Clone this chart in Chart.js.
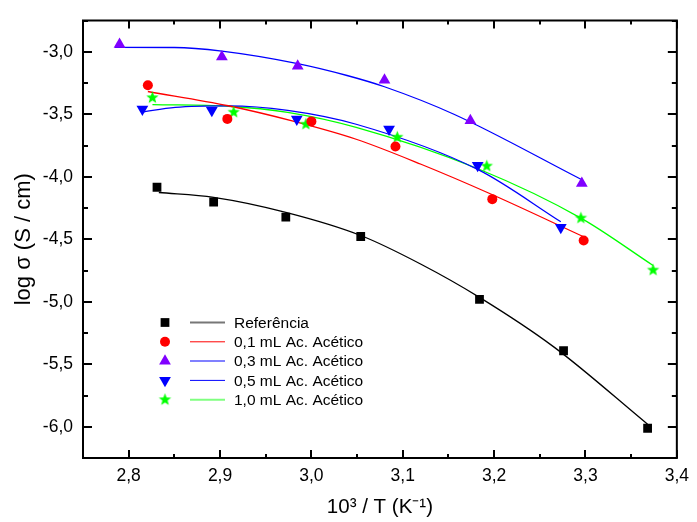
<!DOCTYPE html>
<html>
<head>
  <title>log sigma x 1000/T</title>
  <script src="https://cdn.jsdelivr.net/npm/chart.js"></script>
  <style>
    body { margin: 0; background: #fff; }
  </style>
</head>
<body>
<canvas id="graphCanvas" width="697" height="522"></canvas>

<script>
// measured points: x = 10^3 / T, y = log sigma
let refX  = [2.831, 2.893, 2.972, 3.054, 3.184, 3.276, 3.368];
let refY  = [-4.084, -4.202, -4.323, -4.478, -4.981, -5.392, -6.012];
let ac01X = [2.821, 2.908, 3.000, 3.092, 3.198, 3.298];
let ac01Y = [-3.268, -3.537, -3.557, -3.758, -4.179, -4.510];
let ac03X = [2.790, 2.902, 2.985, 3.080, 3.174, 3.296];
let ac03Y = [-2.940, -3.040, -3.115, -3.226, -3.550, -4.052];
let ac05X = [2.815, 2.891, 2.984, 3.085, 3.182, 3.273];
let ac05Y = [-3.460, -3.470, -3.540, -3.620, -3.910, -4.405];
let ac10X = [2.826, 2.915, 2.994, 3.094, 3.192, 3.295, 3.374];
let ac10Y = [-3.368, -3.484, -3.580, -3.684, -3.915, -4.331, -4.747];

// fitted curves
let refFitX  = [2.833, 2.893, 2.972, 3.054, 3.120, 3.184, 3.266, 3.368];
let refFitY  = [-4.126, -4.165, -4.285, -4.470, -4.700, -4.965, -5.365, -5.980];
let ac01FitX = [2.821, 2.909, 2.980, 3.049, 3.120, 3.197, 3.298];
let ac01FitY = [-3.318, -3.432, -3.555, -3.700, -3.900, -4.140, -4.480];
let ac03FitX = [2.785, 2.850, 2.902, 2.985, 3.039, 3.080, 3.156, 3.295];
let ac03FitY = [-2.965, -2.966, -2.995, -3.095, -3.190, -3.280, -3.500, -4.020];
let ac05FitX = [2.814, 2.851, 2.909, 2.974, 3.049, 3.183, 3.273];
let ac05FitY = [-3.482, -3.445, -3.433, -3.469, -3.580, -3.945, -4.360];
let ac10FitX = [2.826, 2.909, 2.974, 3.049, 3.183, 3.296, 3.374];
let ac10FitY = [-3.423, -3.436, -3.485, -3.605, -3.938, -4.335, -4.710];

let labels = ['Referência', '0,1 mL Ac. Acético', '0,3 mL Ac. Acético', '0,5 mL Ac. Acético', '1,0 mL Ac. Acético'];

// little filled star for the 1,0 mL points
function makeStar(color, r) {
  let c = document.createElement('canvas');
  let s = Math.ceil(r * 2 + 2);
  c.width = s; c.height = s;
  let g = c.getContext('2d');
  g.fillStyle = color;
  g.beginPath();
  for (let i = 0; i < 10; i++) {
    let rr = i % 2 ? r * 0.42 : r;
    let a = -Math.PI / 2 + i * Math.PI / 5;
    g.lineTo(s / 2 + rr * Math.cos(a), s / 2 + rr * Math.sin(a));
  }
  g.closePath();
  g.fill();
  return c;
}
let star = makeStar('#00ff00', 6.5);

let series = [
  { x: refX,  y: refY,  fx: refFitX,  fy: refFitY,  color: '#000000', line: '#000000', style: 'rect',     rot: 0,   radius: 6.2, legLine: '#777777', legW: 2 },
  { x: ac01X, y: ac01Y, fx: ac01FitX, fy: ac01FitY, color: '#ff0000', line: '#ff0000', style: 'circle',   rot: 0,   radius: 5,   legLine: '#ff0000', legW: 1 },
  { x: ac03X, y: ac03Y, fx: ac03FitX, fy: ac03FitY, color: '#8000ff', line: '#0000ff', style: 'triangle', rot: 0,   radius: 6.8, legLine: '#8080ff', legW: 2 },
  { x: ac05X, y: ac05Y, fx: ac05FitX, fy: ac05FitY, color: '#0000ff', line: '#0000ff', style: 'triangle', rot: 180, radius: 6.8, legLine: '#0000ff', legW: 1 },
  { x: ac10X, y: ac10Y, fx: ac10FitX, fy: ac10FitY, color: '#00ff00', line: '#00ff00', style: star,       rot: 0,   radius: 6.5, legLine: '#80ff80', legW: 2 }
];

function pts(xs, ys) {
  return xs.map((v, i) => ({ x: v, y: ys[i] }));
}

function isMajor(v, step) {
  return Math.abs(v / step - Math.round(v / step)) < 1e-6;
}

let datasets = [];
series.forEach((s, i) => {
  datasets.push({
    label: labels[i],
    data: pts(s.x, s.y),
    showLine: false,
    pointStyle: s.style,
    rotation: s.rot,
    pointRadius: s.radius,
    pointBackgroundColor: s.color,
    pointBorderWidth: 0,
    order: 0
  });
  datasets.push({
    label: labels[i] + ' fit',
    data: pts(s.fx, s.fy),
    showLine: true,
    pointRadius: 0,
    borderColor: s.line,
    borderWidth: 1.3,
    cubicInterpolationMode: 'monotone',
    fill: false,
    order: 1
  });
});

const FONT = '"Liberation Sans", Arial, sans-serif';

// box with inward ticks on all four sides
const frameTicks = {
  id: 'frameTicks',
  afterDatasetsDraw(chart) {
    const ctx = chart.ctx, a = chart.chartArea;
    const xs = chart.scales.x, ys = chart.scales.y;
    ctx.save();
    ctx.strokeStyle = '#000';
    ctx.lineWidth = 2;
    ctx.beginPath();
    xs.ticks.forEach(t => {
      const p = Math.round(xs.getPixelForValue(t.value));
      const len = isMajor(t.value, 0.1) ? 8 : 4;
      ctx.moveTo(p, a.bottom); ctx.lineTo(p, a.bottom - len);
      ctx.moveTo(p, a.top); ctx.lineTo(p, a.top + len);
    });
    ys.ticks.forEach(t => {
      const p = Math.round(ys.getPixelForValue(t.value));
      const len = isMajor(t.value, 0.5) ? 9 : 5;
      ctx.moveTo(a.left, p); ctx.lineTo(a.left + len, p);
      ctx.moveTo(a.right, p); ctx.lineTo(a.right - len, p);
    });
    ctx.stroke();
    ctx.strokeRect(a.left, a.top, a.right - a.left, a.bottom - a.top);
    ctx.restore();
  }
};

function drawMarker(ctx, s, x, y) {
  ctx.fillStyle = s.color;
  if (typeof s.style !== 'string') {
    ctx.drawImage(s.style, x - s.style.width / 2, y - s.style.height / 2);
    return;
  }
  ctx.beginPath();
  if (s.style === 'rect') {
    const h = s.radius * Math.SQRT1_2;
    ctx.rect(x - h, y - h, 2 * h, 2 * h);
  } else if (s.style === 'circle') {
    ctx.arc(x, y, s.radius, 0, Math.PI * 2);
  } else {
    let rad = s.rot * Math.PI / 180;
    for (let k = 0; k < 3; k++) {
      ctx.lineTo(x + Math.sin(rad) * s.radius, y - Math.cos(rad) * s.radius);
      rad += Math.PI * 2 / 3;
    }
    ctx.closePath();
  }
  ctx.fill();
}

// legend: marker, short line, text
const originLegend = {
  id: 'originLegend',
  afterDraw(chart) {
    const ctx = chart.ctx, a = chart.chartArea;
    const x0 = a.left + 82, y0 = a.top + 302;
    ctx.save();
    ctx.font = '15.5px ' + FONT;
    ctx.textBaseline = 'middle';
    ctx.textAlign = 'left';
    series.forEach((s, i) => {
      const yy = y0 + i * 19.3;
      drawMarker(ctx, s, x0, yy);
      ctx.strokeStyle = s.legLine;
      ctx.lineWidth = s.legW;
      ctx.beginPath();
      ctx.moveTo(x0 + 25, yy);
      ctx.lineTo(x0 + 60, yy);
      ctx.stroke();
      ctx.fillStyle = '#000';
      ctx.fillText(labels[i], x0 + 69, yy + 1);
    });
    ctx.restore();
  }
};

let chart = new Chart(document.getElementById('graphCanvas'), {
  type: 'scatter',
  data: { datasets: datasets },
  plugins: [frameTicks, originLegend],
  options: {
    responsive: false,
    animation: false,
    layout: { padding: { left: 0, top: 14, right: 14, bottom: 0 } },
    plugins: { legend: { display: false }, tooltip: { enabled: false } },
    scales: {
      x: {
        type: 'linear',
        min: 2.75,
        max: 3.4,
        grid: { display: false, drawTicks: false },
        border: { display: false },
        ticks: {
          stepSize: 0.05,
          autoSkip: false,
          maxRotation: 0,
          padding: 8,
          color: '#000',
          font: { family: FONT, size: 17.5 },
          callback: v => isMajor(v, 0.1) ? v.toFixed(1).replace('.', ',') : ''
        },
        title: {
          display: true,
          text: '10³ / T (K⁻¹)',
          color: '#000',
          font: { family: FONT, size: 20.5 },
          padding: { top: 0, bottom: 2 }
        },
        afterFit: s => { s.height = 64; }
      },
      y: {
        type: 'linear',
        min: -6.25,
        max: -2.75,
        grid: { display: false, drawTicks: false },
        border: { display: false },
        ticks: {
          stepSize: 0.25,
          autoSkip: false,
          padding: 10,
          color: '#000',
          font: { family: FONT, size: 17.5 },
          callback: v => isMajor(v, 0.5) ? v.toFixed(1).replace('.', ',') : ''
        },
        title: {
          display: true,
          text: 'log σ (S / cm)',
          color: '#000',
          font: { family: FONT, size: 22 },
          padding: { top: 11, bottom: 0 }
        },
        afterFit: s => { s.width = 83; }
      }
    }
  }
});
</script>
</body>
</html>
